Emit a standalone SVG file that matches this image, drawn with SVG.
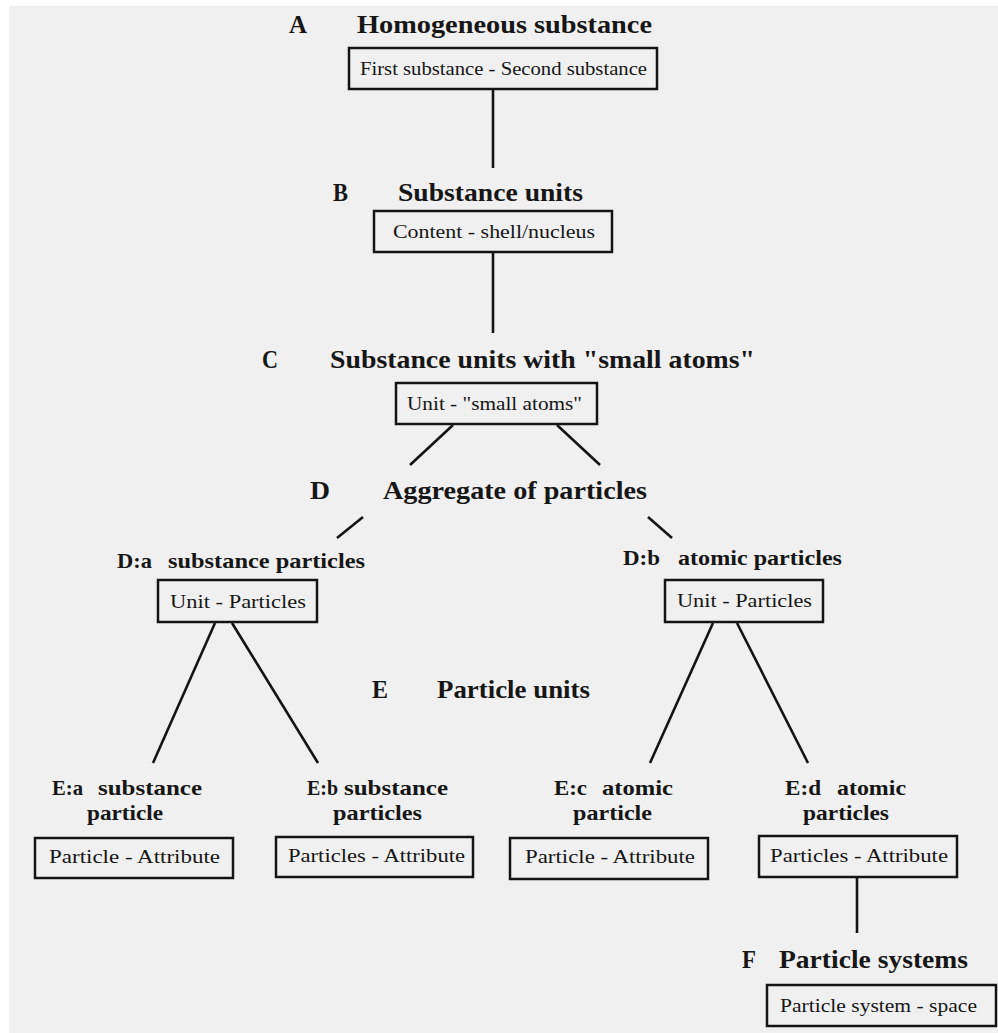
<svg xmlns="http://www.w3.org/2000/svg" width="998" height="1033" viewBox="0 0 998 1033">
<style>
.bg{fill:#f0f0f0}
.box{fill:none;stroke:#141414;stroke-width:2.5}
.ln{stroke:#141414;stroke-width:2.6;fill:none;stroke-linecap:butt}
.h{font-family:"Liberation Serif","Times New Roman",serif;font-weight:bold;font-size:26px;fill:#161616}
.s{font-family:"Liberation Serif","Times New Roman",serif;font-weight:bold;font-size:21px;fill:#161616}
.t{font-family:"Liberation Serif","Times New Roman",serif;font-size:19px;fill:#161616}
</style>
<rect x="0" y="0" width="998" height="1033" fill="#ffffff"/>
<rect class="bg" x="9" y="6" width="989" height="1027"/>

<g id="connectors">
<line class="ln" x1="493" y1="89" x2="493" y2="168"/>
<line class="ln" x1="493" y1="252" x2="493" y2="333"/>
<line class="ln" x1="453" y1="425" x2="410" y2="465"/>
<line class="ln" x1="557" y1="425" x2="600" y2="465"/>
<line class="ln" x1="363" y1="517" x2="337" y2="538"/>
<line class="ln" x1="648" y1="517" x2="672" y2="538"/>
<line class="ln" x1="215" y1="623" x2="153" y2="763"/>
<line class="ln" x1="232" y1="623" x2="318" y2="763"/>
<line class="ln" x1="713" y1="623" x2="650" y2="763"/>
<line class="ln" x1="737" y1="623" x2="808" y2="763"/>
<line class="ln" x1="857" y1="877" x2="857" y2="933"/>
</g>

<g id="nodeA">
<text class="h" x="289" y="33" textLength="18" lengthAdjust="spacingAndGlyphs">A</text>
<text class="h" x="357" y="33" textLength="295" lengthAdjust="spacingAndGlyphs">Homogeneous substance</text>
<rect class="box" x="349" y="48" width="308" height="41"/>
<text class="t" x="360" y="75" textLength="287" lengthAdjust="spacingAndGlyphs">First substance - Second substance</text>
</g>

<g id="nodeB">
<text class="h" x="333" y="201" textLength="15" lengthAdjust="spacingAndGlyphs">B</text>
<text class="h" x="398" y="201" textLength="185" lengthAdjust="spacingAndGlyphs">Substance units</text>
<rect class="box" x="374" y="211" width="238" height="41"/>
<text class="t" x="393" y="238" textLength="202" lengthAdjust="spacingAndGlyphs">Content - shell/nucleus</text>
</g>

<g id="nodeC">
<text class="h" x="262" y="368" textLength="16" lengthAdjust="spacingAndGlyphs">C</text>
<text class="h" x="330" y="368" textLength="425" lengthAdjust="spacingAndGlyphs">Substance units with "small atoms"</text>
<rect class="box" x="396" y="383" width="201" height="41"/>
<text class="t" x="407" y="410" textLength="175" lengthAdjust="spacingAndGlyphs">Unit - "small atoms"</text>
</g>

<g id="nodeD">
<text class="h" x="310" y="499" textLength="20" lengthAdjust="spacingAndGlyphs">D</text>
<text class="h" x="383" y="499" textLength="264" lengthAdjust="spacingAndGlyphs">Aggregate of particles</text>
</g>

<g id="nodeDa">
<text class="s" x="117" y="568" textLength="35" lengthAdjust="spacingAndGlyphs">D:a</text>
<text class="s" x="168" y="568" textLength="197" lengthAdjust="spacingAndGlyphs">substance particles</text>
<rect class="box" x="158" y="580" width="159" height="42"/>
<text class="t" x="170" y="608" textLength="136" lengthAdjust="spacingAndGlyphs">Unit - Particles</text>
</g>

<g id="nodeDb">
<text class="s" x="623" y="565" textLength="37" lengthAdjust="spacingAndGlyphs">D:b</text>
<text class="s" x="678" y="565" textLength="164" lengthAdjust="spacingAndGlyphs">atomic particles</text>
<rect class="box" x="665" y="580" width="158" height="42"/>
<text class="t" x="677" y="607" textLength="135" lengthAdjust="spacingAndGlyphs">Unit - Particles</text>
</g>

<g id="nodeE">
<text class="h" x="372" y="698" textLength="16" lengthAdjust="spacingAndGlyphs">E</text>
<text class="h" x="437" y="698" textLength="153" lengthAdjust="spacingAndGlyphs">Particle units</text>
</g>

<g id="nodeEa">
<text class="s" x="52" y="795" textLength="31" lengthAdjust="spacingAndGlyphs">E:a</text>
<text class="s" x="98" y="795" textLength="104" lengthAdjust="spacingAndGlyphs">substance</text>
<text class="s" x="87" y="820" textLength="76" lengthAdjust="spacingAndGlyphs">particle</text>
<rect class="box" x="35" y="838" width="198" height="40"/>
<text class="t" x="49" y="863" textLength="171" lengthAdjust="spacingAndGlyphs">Particle - Attribute</text>
</g>

<g id="nodeEb">
<text class="s" x="307" y="795" textLength="31" lengthAdjust="spacingAndGlyphs">E:b</text>
<text class="s" x="344" y="795" textLength="104" lengthAdjust="spacingAndGlyphs">substance</text>
<text class="s" x="333" y="820" textLength="89" lengthAdjust="spacingAndGlyphs">particles</text>
<rect class="box" x="276" y="837" width="197" height="40"/>
<text class="t" x="288" y="862" textLength="177" lengthAdjust="spacingAndGlyphs">Particles - Attribute</text>
</g>

<g id="nodeEc">
<text class="s" x="554" y="795" textLength="33" lengthAdjust="spacingAndGlyphs">E:c</text>
<text class="s" x="602" y="795" textLength="71" lengthAdjust="spacingAndGlyphs">atomic</text>
<text class="s" x="573" y="820" textLength="79" lengthAdjust="spacingAndGlyphs">particle</text>
<rect class="box" x="510" y="838" width="198" height="41"/>
<text class="t" x="525" y="863" textLength="170" lengthAdjust="spacingAndGlyphs">Particle - Attribute</text>
</g>

<g id="nodeEd">
<text class="s" x="785" y="795" textLength="36" lengthAdjust="spacingAndGlyphs">E:d</text>
<text class="s" x="837" y="795" textLength="69" lengthAdjust="spacingAndGlyphs">atomic</text>
<text class="s" x="803" y="820" textLength="86" lengthAdjust="spacingAndGlyphs">particles</text>
<rect class="box" x="759" y="836" width="198" height="41"/>
<text class="t" x="770" y="862" textLength="178" lengthAdjust="spacingAndGlyphs">Particles - Attribute</text>
</g>

<g id="nodeF">
<text class="h" x="742" y="968" textLength="14" lengthAdjust="spacingAndGlyphs">F</text>
<text class="h" x="779" y="968" textLength="189" lengthAdjust="spacingAndGlyphs">Particle systems</text>
<rect class="box" x="767" y="985" width="229" height="41"/>
<text class="t" x="780" y="1012" textLength="197" lengthAdjust="spacingAndGlyphs">Particle system - space</text>
</g>
</svg>
